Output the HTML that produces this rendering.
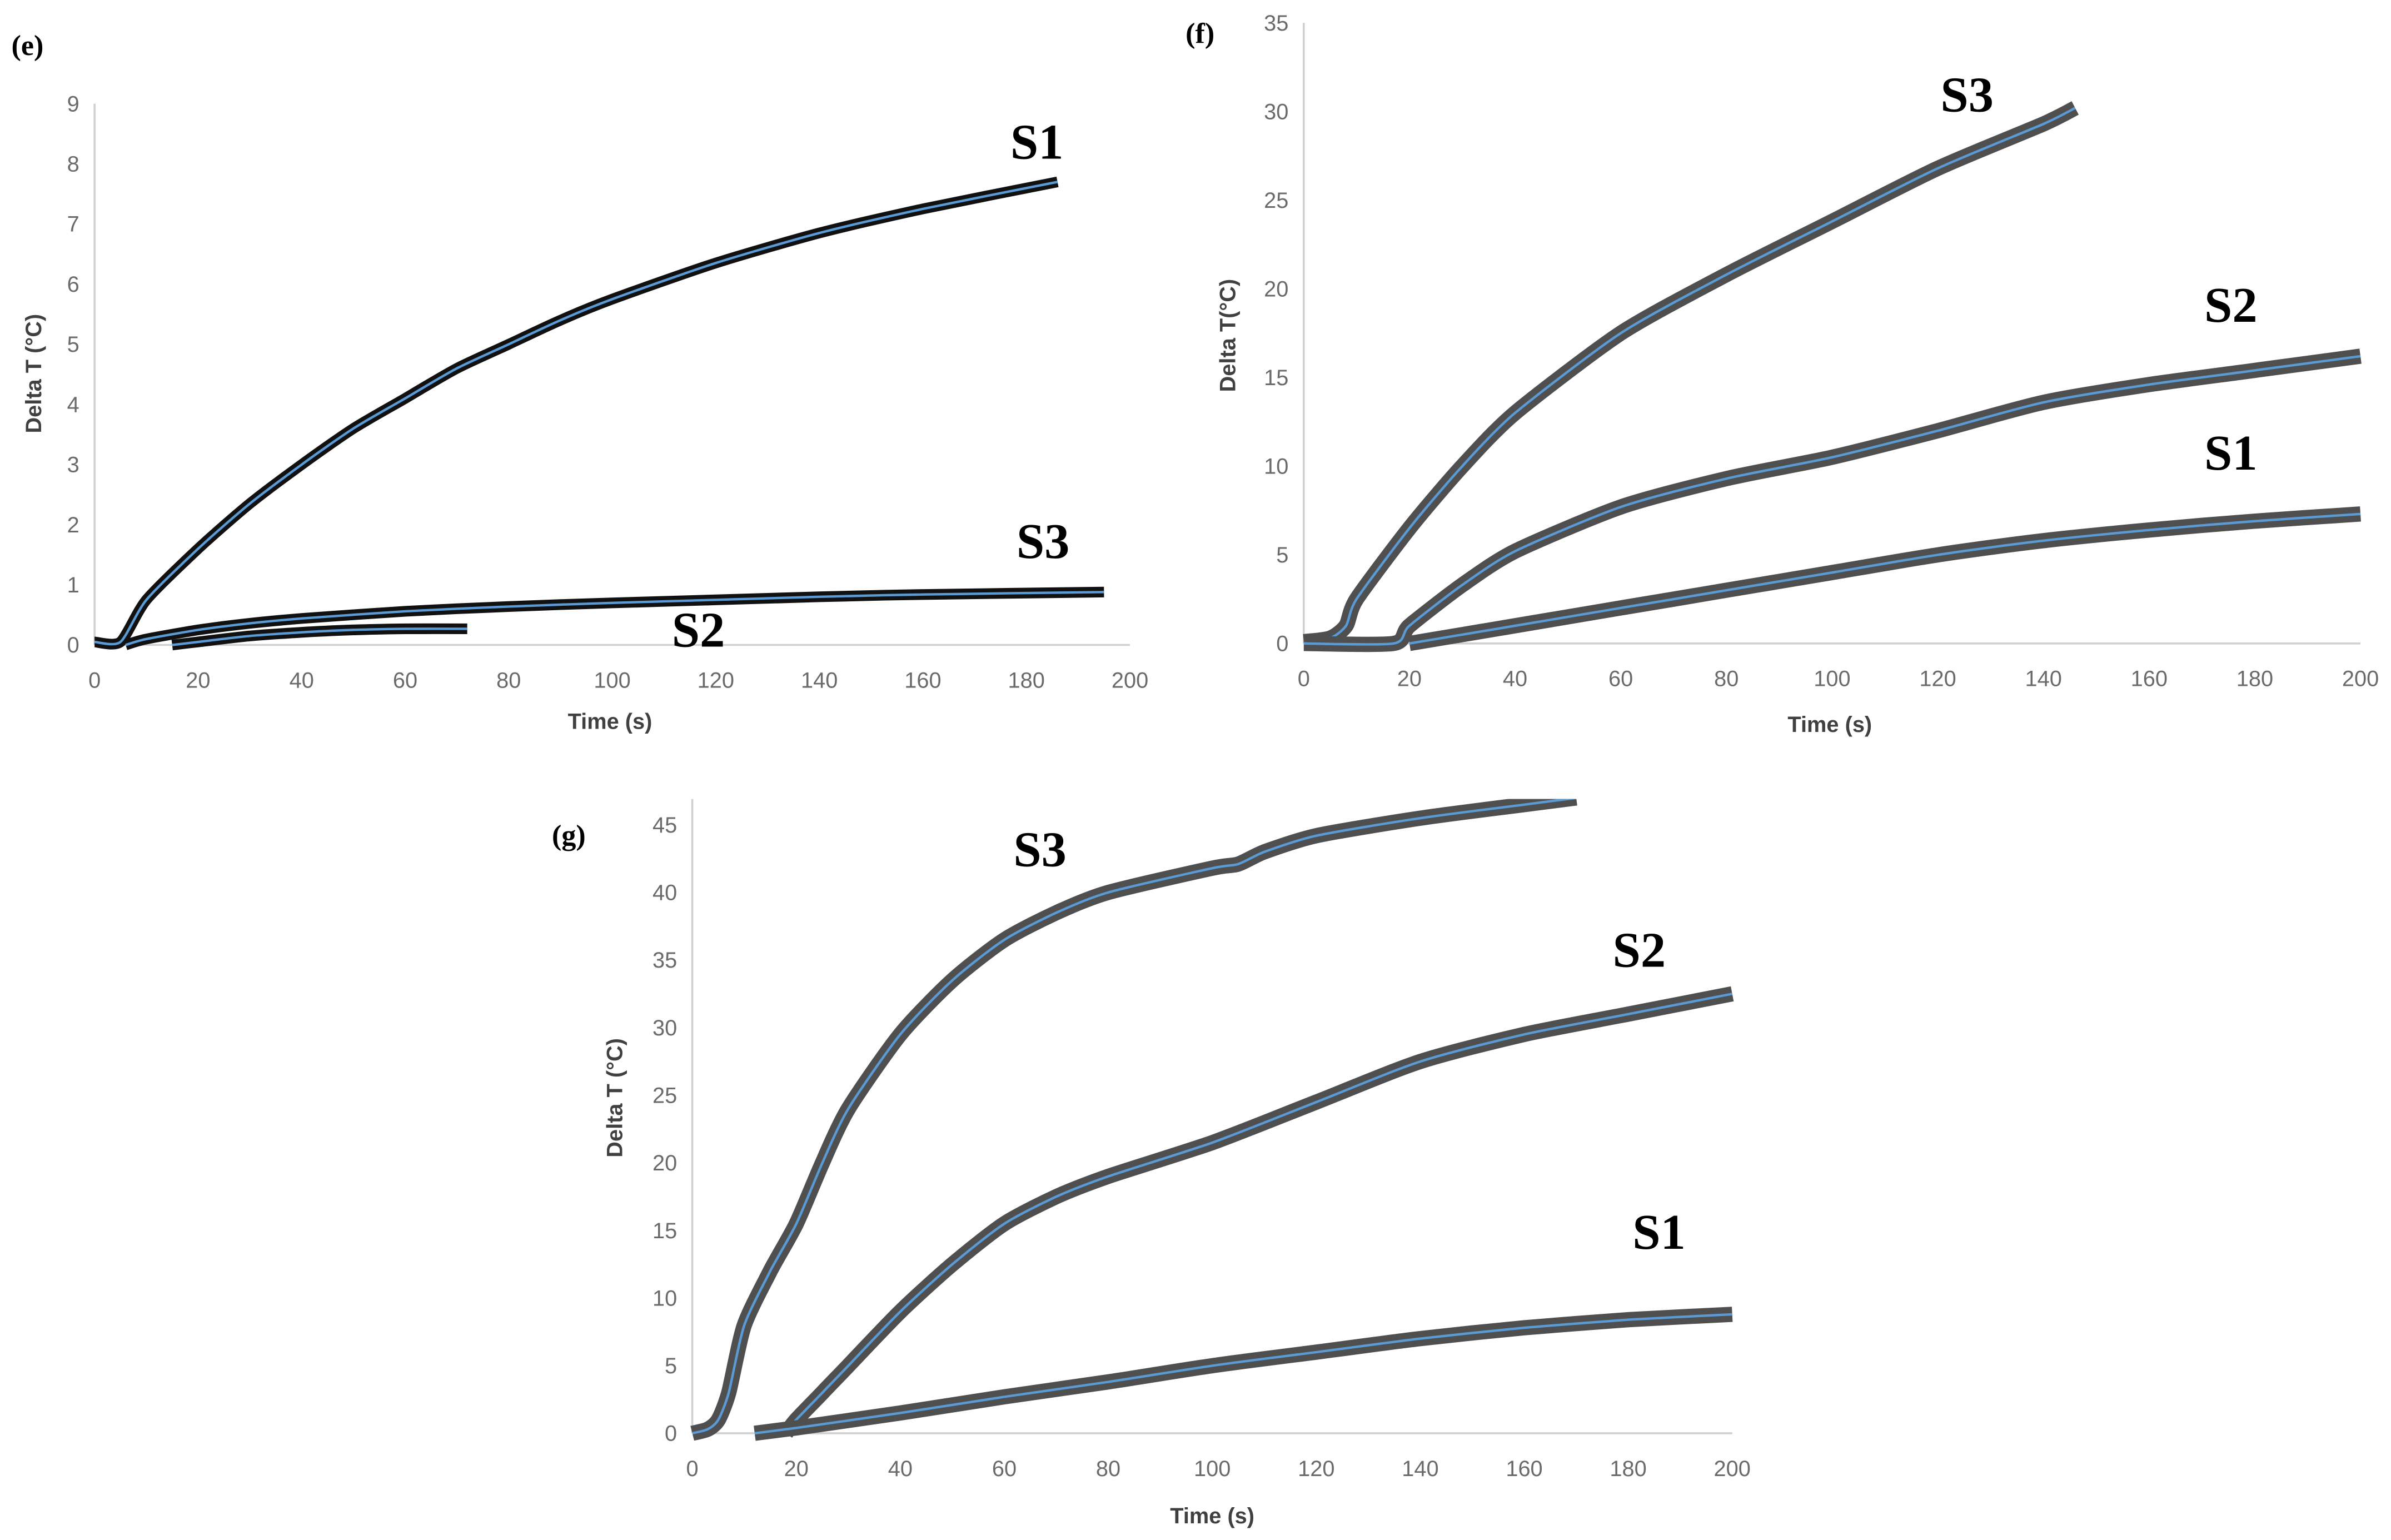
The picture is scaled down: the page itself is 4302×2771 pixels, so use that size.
<!DOCTYPE html>
<html><head><meta charset="utf-8"><style>
html,body{margin:0;padding:0;background:#fff}
svg{display:block}
.tick{font-family:"Liberation Sans Narrow","Liberation Sans",sans-serif;font-size:14.5px;fill:#6a6a6a}
.ttl{font-family:"Liberation Sans",sans-serif;font-size:14.5px;font-weight:bold;fill:#404040}
.lab{font-family:"Liberation Serif",serif;font-size:33px;font-weight:bold;fill:#000}
.pl{font-family:"Liberation Serif",serif;font-size:19px;font-weight:bold;fill:#000}
</style></head><body>
<svg id="chart" width="4302" height="2771" viewBox="0 0 1568 1010" xmlns="http://www.w3.org/2000/svg"></svg>
<script>
// Panel e data
const eS1x=[0,5,10,20,30,40,50,60,70,80,90,100,120,140,160,186];
const eS1y=[0.05,0.05,0.75,1.6,2.35,3.0,3.6,4.1,4.6,5.0,5.4,5.75,6.35,6.85,7.25,7.7];
const eS3x=[6,10,20,30,40,60,80,100,120,140,160,195];
const eS3y=[0,0.1,0.25,0.36,0.44,0.56,0.64,0.7,0.75,0.8,0.84,0.88];
const eS2x=[15,20,30,40,50,60,72];
const eS2y=[0,0.05,0.15,0.21,0.25,0.27,0.27];
// Panel f data
const fS3x=[0,5,8,10,20,30,40,60,80,100,120,140,146];
const fS3y=[0.1,0.3,1,2.5,6.5,10,13,17.5,20.8,23.8,26.8,29.3,30.2];
const fS2x=[0,17,20,30,40,60,80,100,120,140,160,180,200];
const fS2y=[0,0,1,3.3,5.2,7.7,9.3,10.5,12,13.6,14.6,15.4,16.2];
const fS1x=[20,30,40,60,80,100,120,140,160,180,200];
const fS1y=[0,0.5,1,2,3,4,5,5.8,6.4,6.9,7.3];
// Panel g data
const gS3x=[0,3,5,7,10,15,20,25,30,40,50,60,70,80,100,105,110,120,140,160,170];
const gS3y=[0,0.3,1,3,8,12,15.5,20,24,29.5,33.5,36.5,38.5,40,41.8,42.1,43,44.2,45.5,46.5,47];
const gS2x=[18,20,25,30,40,50,60,70,80,100,120,140,160,180,200];
const gS2y=[0,1,3,5,9,12.5,15.5,17.5,19,21.5,24.5,27.5,29.5,31,32.5];
const gS1x=[12,20,40,60,80,100,120,140,160,180,200];
const gS1y=[0,0.4,1.5,2.7,3.8,5,6,7,7.8,8.4,8.8];
const xTicks=[0,20,40,60,80,100,120,140,160,180,200];
const eYTicks=[0,1,2,3,4,5,6,7,8,9];
const fYTicks=[0,5,10,15,20,25,30,35];
const gYTicks=[0,5,10,15,20,25,30,35,40,45];

const NS="http://www.w3.org/2000/svg";
const svg=document.getElementById('chart');
function mk(tag,attrs,parent){const e=document.createElementNS(NS,tag);for(const k in attrs)e.setAttribute(k,attrs[k]);(parent||svg).appendChild(e);return e;}
function txt(s,x,y,cls,anchor,parent){const t=mk('text',{x:x,y:y,class:cls,'text-anchor':anchor||'middle'},parent);t.textContent=s;return t;}
function smooth(pts){
  let d='M'+pts[0][0].toFixed(1)+','+pts[0][1].toFixed(1);
  for(let i=0;i<pts.length-1;i++){
    const p0=pts[Math.max(i-1,0)],p1=pts[i],p2=pts[i+1],p3=pts[Math.min(i+2,pts.length-1)];
    const t=0.12;
    const c1=[p1[0]+(p2[0]-p0[0])*t,p1[1]+(p2[1]-p0[1])*t];
    const c2=[p2[0]-(p3[0]-p1[0])*t,p2[1]-(p3[1]-p1[1])*t];
    d+=' C'+c1[0].toFixed(1)+','+c1[1].toFixed(1)+' '+c2[0].toFixed(1)+','+c2[1].toFixed(1)+' '+p2[0].toFixed(1)+','+p2[1].toFixed(1);
  }
  return d;
}

function panel(p){
  const g=mk('g',{});
  
  
  const X=v=>p.x0+(v/200)*(p.x1-p.x0);
  const Y=v=>p.y0-(v/p.ymax)*(p.y0-p.ymaxPx);
  const ax=mk('line',{x1:p.x0,y1:p.top,x2:p.x0,y2:p.y0,stroke:'#d0d0d0','stroke-width':1.3},g);
  
  
  const bx=mk('line',{x1:p.x0,y1:p.y0,x2:p.x1,y2:p.y0,stroke:'#d0d0d0','stroke-width':1.3},g);
  
  
  xTicks.forEach(v=>{const t=txt(String(v),X(v),p.y0+28,'tick','middle',g);
    
    });
  p.yt.forEach(v=>{const t=txt(String(v),p.x0-10,Y(v)+5,'tick','end',g);
    
    });
  const xt=txt('Time (s)',p.xtx,p.xty,'ttl','middle',g);
  
  
  const yt=txt(p.ytitle,0,0,'ttl','middle',g);
  yt.setAttribute('transform','translate('+p.ytx+','+p.yty+') rotate(-90)');
  
  
  const pl=txt(p.label,p.lx,p.ly,'pl','middle',g);
  
  
  const clipId='c'+p.name;
  const cp=mk('clipPath',{id:clipId},g);
  mk('rect',{x:p.x0-20,y:p.top,width:p.x1-p.x0+40,height:p.y0-p.top+20},cp);
  const lg=mk('g',{'clip-path':'url(#'+clipId+')'},g);
  p.series.forEach(s=>{
    const d=smooth(s.x.map((v,i)=>[X(v),Y(s.y[i])]));
    const o=mk('path',{d:d,fill:'none',stroke:p.outline,'stroke-width':p.ow,'stroke-linejoin':'round','stroke-linecap':'butt'},lg);
    
    
    const l=mk('path',{d:d,fill:'none',stroke:'#5b9bd5','stroke-width':1.6,'stroke-linejoin':'round'},lg);
    
    
  });
  p.tags.forEach(t=>{const e=txt(t[0],t[1],t[2],'lab','middle',g);
    
    });
}
panel({name:'panel-e',x0:62,x1:741,y0:423,ymax:9,ymaxPx:68,top:68,yt:eYTicks,outline:'#111',ow:7,
  xtx:400,xty:478,ytitle:'Delta T (°C)',ytx:27,yty:245,label:'(e)',lx:18,ly:36,
  series:[{n:'s1',x:eS1x,y:eS1y},{n:'s3',x:eS3x,y:eS3y},{n:'s2',x:eS2x,y:eS2y}],
  tags:[['S1',680,104],['S3',684,366],['S2',458,424]]});
panel({name:'panel-f',x0:855,x1:1548,y0:422,ymax:35,ymaxPx:15,top:15,yt:fYTicks,outline:'#4f4f4f',ow:10,
  xtx:1200,xty:480,ytitle:'Delta T(°C)',ytx:810,yty:220,label:'(f)',lx:787,ly:28,
  series:[{n:'s3',x:fS3x,y:fS3y},{n:'s2',x:fS2x,y:fS2y},{n:'s1',x:fS1x,y:fS1y}],
  tags:[['S3',1290,73],['S2',1463,211],['S1',1463,308]]});
panel({name:'panel-g',x0:454,x1:1136,y0:940,ymax:45,ymaxPx:541,top:524,yt:gYTicks,outline:'#4f4f4f',ow:10,
  xtx:795,xty:999,ytitle:'Delta T (°C)',ytx:408,yty:720,label:'(g)',lx:373,ly:554,
  series:[{n:'s3',x:gS3x,y:gS3y},{n:'s2',x:gS2x,y:gS2y},{n:'s1',x:gS1x,y:gS1y}],
  tags:[['S3',682,568],['S2',1075,634],['S1',1088,819]]});
</script>
</body></html>
